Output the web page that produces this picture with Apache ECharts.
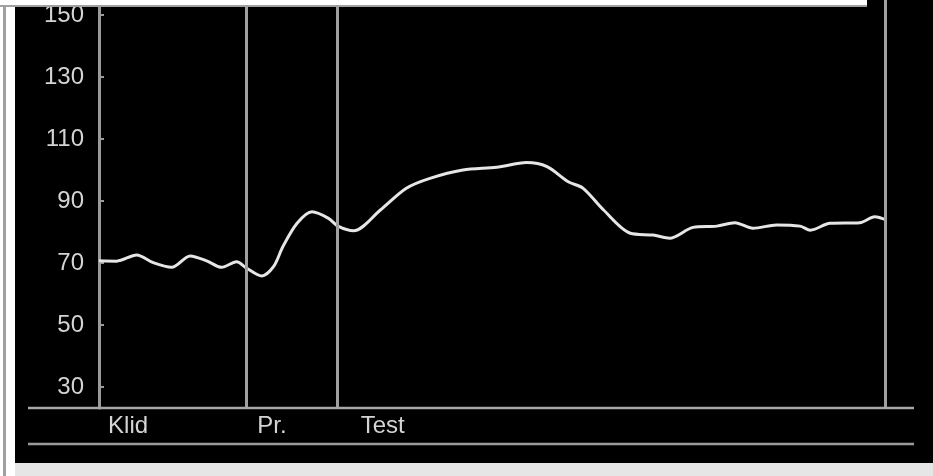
<!DOCTYPE html>
<html>
<head>
<meta charset="utf-8">
<script src="https://cdn.jsdelivr.net/npm/echarts@6/dist/echarts.min.js"></script>
<style>
  html, body { margin: 0; padding: 0; background: #ffffff; }
  #chart { width: 933px; height: 476px; }
</style>
</head>
<body>
<div id="chart"></div>
<script>
// Heart-rate trace over the session (time units along x, beats per minute on y)
const timePoints = [0, 2.25, 4.8, 6.9, 9.25, 11.6, 13.7, 15.6, 17.5, 18.8, 20.7, 22.2, 23.4, 25.2, 27.1, 29.2,
  30.4, 32.4, 35.8, 39.1, 42.1, 46.3, 50.6, 54.4, 57.0, 59.7, 61.6, 64.2, 67.6, 70.5, 72.6, 75.6,
  78.6, 80.9, 83.2, 86.2, 89.2, 90.5, 93.0, 96.8, 98.7, 100.4];
const heartRate = [70.7, 70.6, 72.6, 70.1, 68.6, 72.3, 70.7, 68.6, 70.4, 68.3, 65.8, 68.8, 75.3, 82.8, 86.5, 84.4,
  81.9, 80.4, 87.1, 94.1, 97.3, 100, 100.9, 102.4, 101.1, 96.2, 94.1, 87.1, 79.6, 79.0, 78.0, 81.5,
  81.9, 83.0, 81.2, 82.3, 81.9, 80.6, 82.8, 83.0, 84.9, 83.6];

// Phase boundaries (vertical lines) and phase names
const phaseBounds = [18.7, 30.3, 100];
const phaseNames = ['Klid', 'Pr.', 'Test'];
const phaseLabelAt = [3.7, 22.0, 36.1];

// Y-axis tick labels
const yTicks = [30, 50, 70, 90, 110, 130, 150];

const chart = echarts.init(document.getElementById('chart'));

const lineGray = '#a8a8a8';
const textColor = '#d4d4d4';
const font = '"Liberation Sans", Arial, sans-serif';

chart.setOption({
  backgroundColor: '#ffffff',
  animation: false,
  graphic: [
    // black panel
    { type: 'rect', z: -10, shape: { x: 15, y: 0, width: 918, height: 463 }, style: { fill: '#000000' } },
    // light strip under the panel
    { type: 'rect', z: -10, shape: { x: 15, y: 463, width: 918, height: 13 }, style: { fill: '#e6e6e6' } },
    // left frame line
    { type: 'rect', z: 100, shape: { x: 3, y: 5, width: 3, height: 471 }, style: { fill: '#a0a0a0' } },
    // top white band with its gray edge
    { type: 'rect', z: 100, shape: { x: 0, y: 0, width: 867, height: 5 }, style: { fill: '#ffffff' } },
    { type: 'rect', z: 100, shape: { x: 0, y: 5, width: 867, height: 2 }, style: { fill: '#a0a0a0' } },
    // baseline and lower rule
    { type: 'line', z: 50, shape: { x1: 28, y1: 408, x2: 914, y2: 408 }, style: { stroke: lineGray, lineWidth: 2.5 } },
    { type: 'line', z: 50, shape: { x1: 28, y1: 444, x2: 914, y2: 444 }, style: { stroke: '#9a9a9a', lineWidth: 2.5 } }
  ],
  grid: { left: 99, right: 48, top: 0, bottom: 68, containLabel: false },
  xAxis: {
    type: 'value',
    min: 0,
    max: 100,
    axisLine: { show: false },
    axisTick: { show: false },
    splitLine: { show: false },
    axisLabel: {
      customValues: phaseLabelAt,
      formatter: function (v) {
        const i = phaseLabelAt.indexOf(v);
        return i >= 0 ? phaseNames[i] : '';
      },
      margin: 6,
      color: textColor,
      fontFamily: font,
      fontSize: 24
    }
  },
  yAxis: {
    type: 'value',
    min: 23.23,
    max: 154.84,
    axisLine: { show: true, lineStyle: { color: '#9a9a9a', width: 3 } },
    axisTick: { show: true, inside: true, length: 5, customValues: yTicks, lineStyle: { color: '#9a9a9a', width: 2 } },
    splitLine: { show: false },
    axisLabel: {
      customValues: yTicks,
      margin: 15,
      color: textColor,
      fontFamily: font,
      fontSize: 24
    }
  },
  series: [{
    type: 'line',
    data: timePoints.map((t, i) => [t, heartRate[i]]),
    smooth: 0.3,
    clip: false,
    showSymbol: false,
    lineStyle: { color: '#e6e6e6', width: 3 },
    markLine: {
      silent: true,
      symbol: ['none', 'none'],
      label: { show: false },
      lineStyle: { color: '#a0a0a0', width: 3, type: 'solid' },
      data: phaseBounds.map(v => ({ xAxis: v }))
    }
  }]
});
</script>
</body>
</html>
